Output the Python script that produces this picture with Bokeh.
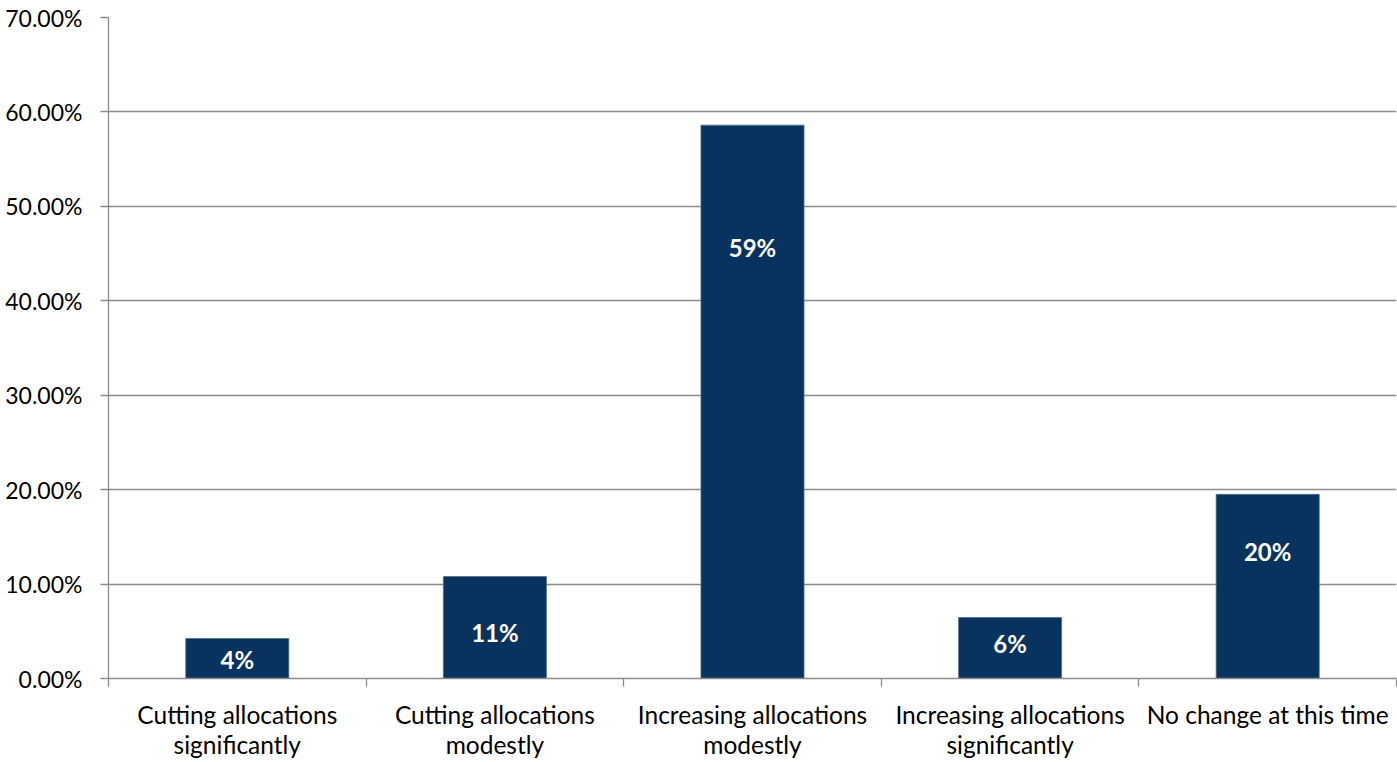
from bokeh.plotting import figure
from bokeh.models import Range1d, FixedTicker, NumeralTickFormatter, ColumnDataSource
from bokeh.core.properties import value
from bokeh.embed import file_html
from bokeh.resources import INLINE

categories = [
    "Cutting allocations\nsignificantly",
    "Cutting allocations\nmodestly",
    "Increasing allocations\nmodestly",
    "Increasing allocations\nsignificantly",
    "No change at this time",
]
shares = [0.0424, 0.108, 0.586, 0.0645, 0.195]
bar_labels = ["4%", "11%", "59%", "6%", "20%"]
label_pos = [0.0205, 0.049, 0.456, 0.037, 0.135]
y_ticks = [0.0, 0.1, 0.2, 0.3, 0.4, 0.5, 0.6, 0.7]

FONT = "Lato"
BAR = "#07335E"
GRID = "#8C8C8C"

n = len(categories)
centers = [i + 0.5 for i in range(n)]
bounds = [float(i) for i in range(n + 1)]

src = ColumnDataSource(dict(x=centers, top=shares, lab=bar_labels, ly=label_pos))

p = figure(width=1397, height=762, output_backend="svg", toolbar_location=None,
           x_range=Range1d(0, n), y_range=Range1d(0, 0.7),
           min_border_left=108, min_border_right=1, min_border_top=17, min_border_bottom=84)
p.outline_line_color = None
p.background_fill_color = "white"
p.border_fill_color = "white"

p.vbar(x="x", top="top", width=0.4, bottom=0, source=src, fill_color=BAR,
       line_color="#4F6D8C", line_width=0.8)
p.text(x="x", y="ly", text="lab", source=src, text_color="white",
       text_font=value(FONT), text_font_style="bold", text_font_size="24px",
       text_align="center", text_baseline="middle")

# y axis
p.yaxis.ticker = FixedTicker(ticks=y_ticks)
p.yaxis.formatter = NumeralTickFormatter(format="0.00%")
p.yaxis.major_label_text_font = FONT
p.yaxis.major_label_text_font_size = "23px"
p.yaxis.major_label_text_color = "black"
p.yaxis.major_tick_out = 8
p.yaxis.major_tick_in = 0
p.yaxis.minor_tick_line_color = None
p.yaxis.major_tick_line_color = GRID
p.yaxis.axis_line_color = GRID
p.yaxis.axis_line_width = 1.3
p.yaxis.major_tick_line_width = 1.3
p.yaxis.major_label_standoff = 18

# x axis: labels at centers, ticks at category boundaries
p.xaxis.ticker = FixedTicker(ticks=centers, minor_ticks=bounds)
p.xaxis.major_label_overrides = {c: lab for c, lab in zip(centers, categories)}
p.xaxis.major_tick_line_color = None
p.xaxis.major_tick_out = 0
p.xaxis.major_tick_in = 0
p.xaxis.minor_tick_out = 8
p.xaxis.minor_tick_in = 0
p.xaxis.minor_tick_line_color = GRID
p.xaxis.minor_tick_line_width = 1.3
p.xaxis.axis_line_color = GRID
p.xaxis.axis_line_width = 1.3
p.xaxis.major_label_text_font = FONT
p.xaxis.major_label_text_font_size = "24.5px"
p.xaxis.major_label_text_color = "black"
p.xaxis.major_label_text_line_height = 1.05
p.xaxis.major_label_standoff = 13

p.xgrid.grid_line_color = None
p.ygrid.ticker = FixedTicker(ticks=y_ticks)
p.ygrid.grid_line_color = GRID
p.ygrid.grid_line_width = 1.3

open("out.html", "w").write(file_html(p, INLINE))
